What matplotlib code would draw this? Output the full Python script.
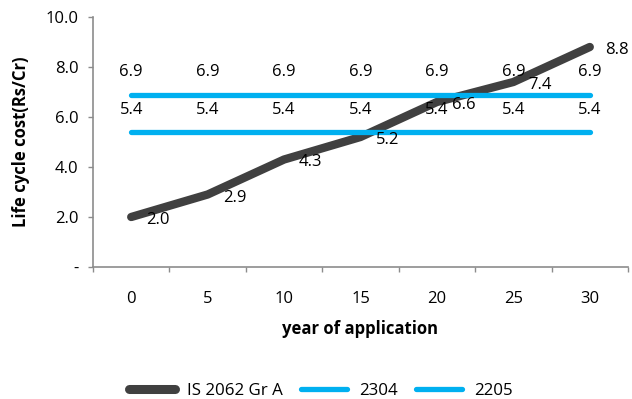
import matplotlib
matplotlib.use("Agg")
import matplotlib.pyplot as plt
from matplotlib.ticker import FixedLocator, NullFormatter, FixedFormatter

plt.rcParams['font.family'] = ['Open Sans', 'DejaVu Sans']

years = [0, 5, 10, 15, 20, 25, 30]
is2062 = [2.0, 2.9, 4.3, 5.2, 6.6, 7.4, 8.8]
s2304 = [6.9, 6.9, 6.9, 6.9, 6.9, 6.9, 6.9]
s2205 = [5.4, 5.4, 5.4, 5.4, 5.4, 5.4, 5.4]
series_names = ["IS 2062 Gr A", "2304", "2205"]
y_ticks = [0, 2, 4, 6, 8, 10]
y_tick_labels = ["-", "2.0", "4.0", "6.0", "8.0", "10.0"]

GRAY = "#404040"
BLUE = "#00B0F0"
AXIS = "#8C8C8C"
FS = 12

W, H = 632, 399
fig = plt.figure(figsize=(W / 100, H / 100), dpi=100)
ax = fig.add_axes([93 / W, 1 - 267 / H, (628 - 93) / W, 250 / H])

x = list(range(len(years)))
l1, = ax.plot(x, is2062, color=GRAY, lw=6.0, solid_capstyle='round', zorder=2)
l2, = ax.plot(x, s2304, color=BLUE, lw=3.8, solid_capstyle='round', zorder=3)
l3, = ax.plot(x, s2205, color=BLUE, lw=3.8, solid_capstyle='round', zorder=3)

# value labels
for xi, v in zip(x, is2062):
    ax.annotate(f"{v:.1f}", (xi, v), xytext=(15, -3), textcoords='offset pixels',
                ha='left', va='center', fontsize=FS, color='black', zorder=5)
for xi, v in zip(x, s2304):
    ax.annotate(f"{v:.1f}", (xi, v), xytext=(0, 23), textcoords='offset pixels',
                ha='center', va='center', fontsize=FS, color='black', zorder=5)
for xi, v in zip(x, s2205):
    ax.annotate(f"{v:.1f}", (xi, v), xytext=(0, 22), textcoords='offset pixels',
                ha='center', va='center', fontsize=FS, color='black', zorder=5)

ax.set_xlim(-0.5, len(years) - 0.5)
ax.set_ylim(0, 10)

# category axis: tick marks between categories, labels at category centres
ax.xaxis.set_major_locator(FixedLocator([i - 0.5 for i in range(len(years) + 1)]))
ax.xaxis.set_major_formatter(NullFormatter())
ax.xaxis.set_minor_locator(FixedLocator(x))
ax.xaxis.set_minor_formatter(FixedFormatter([str(y) for y in years]))
ax.tick_params(axis='x', which='major', direction='out', length=3.6, width=1, color=AXIS)
ax.tick_params(axis='x', which='minor', length=0, pad=17, labelsize=FS)

ax.set_yticks(y_ticks)
ax.set_yticklabels(y_tick_labels)
ax.tick_params(axis='y', direction='out', length=3.6, width=1, color=AXIS, pad=7, labelsize=FS)

for side in ('top', 'right'):
    ax.spines[side].set_visible(False)
for side in ('left', 'bottom'):
    ax.spines[side].set_color(AXIS)
    ax.spines[side].set_linewidth(1.2)

ax.set_ylabel("Life cycle cost(Rs/Cr)", fontsize=12, fontweight='bold')
ax.yaxis.set_label_coords((30 - 93) / 535, 0.5)
ax.set_xlabel("year of application", fontsize=12, fontweight='bold')
ax.xaxis.set_label_coords(0.5, -(320 - 267) / 250)

leg = fig.legend([l1, l2, l3], series_names, loc='center', bbox_to_anchor=(321 / W, 1 - 391 / H),
                 ncol=3, frameon=False, fontsize=12.2, handlelength=2.7, handletextpad=0.7,
                 columnspacing=1.1)
leg.get_lines()[0].set_linewidth(6.5)
for ln in leg.get_lines():
    ln.set_solid_capstyle('round')

fig.savefig("out.png", dpi=100)
